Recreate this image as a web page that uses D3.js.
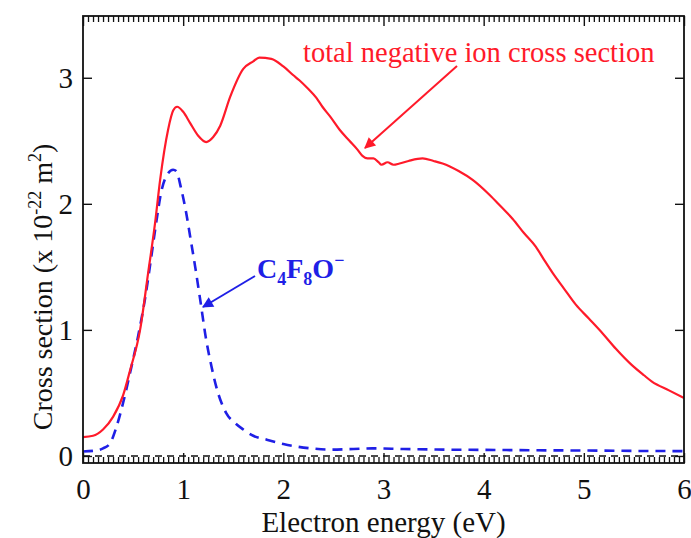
<!DOCTYPE html>
<html>
<head>
<meta charset="utf-8">
<script src="https://cdn.jsdelivr.net/npm/d3@7"></script>
<style>
  html, body { margin: 0; padding: 0; background: #fff; }
  svg { display: block; font-family: "Liberation Serif", "Times New Roman", serif; }
</style>
</head>
<body>
<svg id="chart" width="691" height="538"></svg>
<script>
// Total negative ion cross section (red, solid)
const totalEnergy = [0.00,0.10,0.20,0.30,0.40,0.47,0.57,0.65,0.72,0.77,0.85,0.90,0.94,1.00,1.07,1.15,1.23,1.30,1.37,1.47,1.60,1.70,1.76,1.88,2.00,2.10,2.16,2.25,2.33,2.39,2.47,2.56,2.66,2.74,2.79,2.84,2.90,2.95,2.98,3.04,3.10,3.16,3.25,3.39,3.50,3.59,3.75,3.89,4.06,4.17,4.29,4.40,4.52,4.60,4.69,4.80,4.92,5.05,5.19,5.32,5.48,5.60,5.68,5.85,6.00];
const totalCross  = [0.15,0.16,0.21,0.31,0.48,0.68,1.00,1.45,1.85,2.19,2.59,2.74,2.77,2.73,2.64,2.54,2.49,2.53,2.62,2.85,3.07,3.13,3.16,3.15,3.09,3.02,2.98,2.91,2.84,2.77,2.69,2.59,2.50,2.43,2.38,2.36,2.36,2.33,2.31,2.33,2.31,2.32,2.34,2.36,2.34,2.32,2.26,2.19,2.07,1.98,1.88,1.77,1.66,1.56,1.45,1.33,1.20,1.09,0.97,0.85,0.72,0.64,0.59,0.52,0.46];

// C4F8O- anion cross section (blue, dashed)
const anionEnergy = [0.00,0.10,0.20,0.27,0.33,0.40,0.47,0.55,0.62,0.68,0.74,0.78,0.84,0.90,0.93,0.98,1.03,1.07,1.12,1.17,1.23,1.28,1.33,1.43,1.52,1.60,1.70,1.83,2.00,2.13,2.30,2.46,2.70,2.89,3.20,3.60,4.00,4.50,5.00,5.50,6.00];
const anionCross  = [0.035,0.04,0.06,0.10,0.22,0.42,0.66,0.95,1.25,1.57,1.90,2.09,2.23,2.27,2.26,2.12,1.93,1.74,1.50,1.24,0.92,0.72,0.55,0.34,0.26,0.21,0.16,0.13,0.095,0.075,0.058,0.05,0.055,0.06,0.055,0.05,0.048,0.045,0.043,0.04,0.038];

const xTicks = [0, 1, 2, 3, 4, 5, 6];
const yTicks = [0, 1, 2, 3];

const svg = d3.select("#chart");
const plot = { left: 83, right: 684, top: 16, bottom: 463 };
const INK = "#111";
const RED = "#ff1a2a";
const BLUE = "#1f1fe6";

const x = d3.scaleLinear().domain([0, 6]).range([plot.left, plot.right]);
const y = d3.scaleLinear().domain([-0.056, 3.49]).range([plot.bottom, plot.top]);

const defs = svg.append("defs");
defs.append("clipPath").attr("id", "plot-clip")
  .append("rect")
  .attr("x", plot.left).attr("y", plot.top)
  .attr("width", plot.right - plot.left).attr("height", plot.bottom - plot.top);

// Arrowhead markers
function arrowMarker(id, color) {
  defs.append("marker")
    .attr("id", id)
    .attr("viewBox", "0 0 10 10")
    .attr("refX", 9).attr("refY", 5)
    .attr("markerWidth", 14).attr("markerHeight", 11)
    .attr("orient", "auto")
    .attr("markerUnits", "userSpaceOnUse")
    .append("path")
    .attr("d", "M0,0 L10,5 L0,10 z")
    .attr("fill", color);
}
arrowMarker("arrow-red", RED);
arrowMarker("arrow-blue", BLUE);

// Zero reference line
svg.append("line")
  .attr("x1", x(0)).attr("x2", x(6))
  .attr("y1", y(0)).attr("y2", y(0))
  .attr("stroke", INK).attr("stroke-width", 1.6)
  .attr("stroke-dasharray", "7,5");

const line = d3.line()
  .x(d => x(d[0]))
  .y(d => y(d[1]))
  .curve(d3.curveMonotoneX);

const g = svg.append("g").attr("clip-path", "url(#plot-clip)");

g.append("path")
  .datum(anionEnergy.map((e, i) => [e, anionCross[i]]))
  .attr("d", line)
  .attr("fill", "none")
  .attr("stroke", BLUE)
  .attr("stroke-width", 2.6)
  .attr("stroke-dasharray", "10,7");

g.append("path")
  .datum(totalEnergy.map((e, i) => [e, totalCross[i]]))
  .attr("d", line)
  .attr("fill", "none")
  .attr("stroke", RED)
  .attr("stroke-width", 2.2)
  .attr("stroke-linejoin", "round");

// Axes: ticks point inward on all four sides
function styleAxis(a, size) {
  a.select(".domain").remove();
  a.selectAll(".tick line").attr("stroke", INK).attr("stroke-width", 1.4);
  a.selectAll(".tick text")
    .attr("font-family", "Liberation Serif, serif")
    .attr("font-size", size || 29)
    .attr("fill", INK);
  return a;
}

// Minor ticks every 0.05 eV along bottom and top edges
const minorX = d3.range(1, 120).map(i => i * 0.05).filter((v, i) => (i + 1) % 20 !== 0);
styleAxis(svg.append("g").attr("transform", `translate(0,${plot.bottom})`)
  .call(d3.axisBottom(x).tickValues(minorX).tickSize(-6).tickFormat("")))
  .selectAll(".tick line").attr("stroke-width", 1.3);
styleAxis(svg.append("g").attr("transform", `translate(0,${plot.top})`)
  .call(d3.axisTop(x).tickValues(minorX).tickSize(-6).tickFormat("")))
  .selectAll(".tick line").attr("stroke-width", 1.3);

styleAxis(svg.append("g").attr("transform", `translate(0,${plot.bottom})`)
  .call(d3.axisBottom(x).tickValues(xTicks).tickSize(-10).tickPadding(15).tickFormat(d3.format("d"))));
styleAxis(svg.append("g").attr("transform", `translate(0,${plot.top})`)
  .call(d3.axisTop(x).tickValues(xTicks).tickSize(-10).tickFormat("")));
styleAxis(svg.append("g").attr("transform", `translate(${plot.left},0)`)
  .call(d3.axisLeft(y).tickValues(yTicks).tickSize(-9).tickPadding(10).tickFormat(d3.format("d"))));
styleAxis(svg.append("g").attr("transform", `translate(${plot.right},0)`)
  .call(d3.axisRight(y).tickValues(yTicks).tickSize(-9).tickFormat("")));

// Frame
svg.append("rect")
  .attr("x", plot.left).attr("y", plot.top)
  .attr("width", plot.right - plot.left).attr("height", plot.bottom - plot.top)
  .attr("fill", "none").attr("stroke", INK).attr("stroke-width", 1.8);

// Axis titles
svg.append("text")
  .attr("x", (plot.left + plot.right) / 2)
  .attr("y", 532)
  .attr("text-anchor", "middle")
  .attr("font-size", 29)
  .attr("fill", INK)
  .text("Electron energy (eV)");

const yl = svg.append("text")
  .attr("transform", "translate(52,287) rotate(-90)")
  .attr("text-anchor", "middle")
  .attr("font-size", 28)
  .attr("fill", INK);
yl.append("tspan").text("Cross section (x 10");
yl.append("tspan").attr("dy", -11).attr("font-size", 18).text("-22");
yl.append("tspan").attr("dy", 11).text(" m");
yl.append("tspan").attr("dy", -11).attr("font-size", 18).text("2");
yl.append("tspan").attr("dy", 11).text(")");

// Annotation: total
svg.append("text")
  .attr("x", 303).attr("y", 62)
  .attr("font-size", 28.5)
  .attr("fill", RED)
  .text("total negative ion cross section");
svg.append("line")
  .attr("x1", 457).attr("y1", 66)
  .attr("x2", 365).attr("y2", 148)
  .attr("stroke", RED).attr("stroke-width", 2)
  .attr("marker-end", "url(#arrow-red)");

// Annotation: C4F8O-
const lab = svg.append("text")
  .attr("x", 257).attr("y", 278)
  .attr("font-size", 28)
  .attr("font-weight", "bold")
  .attr("fill", BLUE);
lab.append("tspan").text("C");
lab.append("tspan").attr("dy", 7).attr("font-size", 18).text("4");
lab.append("tspan").attr("dy", -7).text("F");
lab.append("tspan").attr("dy", 7).attr("font-size", 18).text("8");
lab.append("tspan").attr("dy", -7).text("O");
lab.append("tspan").attr("dy", -12).attr("font-size", 18).text("\u2212");
svg.append("line")
  .attr("x1", 255).attr("y1", 276)
  .attr("x2", 203).attr("y2", 307)
  .attr("stroke", BLUE).attr("stroke-width", 2)
  .attr("marker-end", "url(#arrow-blue)");
</script>
</body>
</html>
